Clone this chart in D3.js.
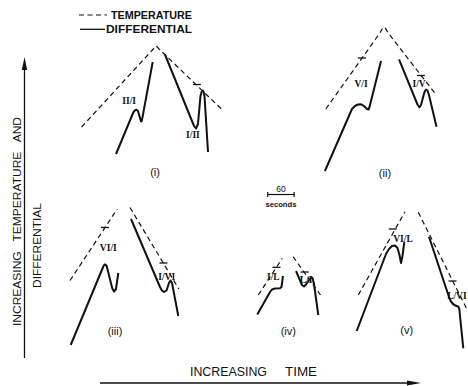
<!DOCTYPE html>
<html>
<head>
<meta charset="utf-8">
<script src="https://d3js.org/d3.v7.min.js"></script>
<style>
  body { margin: 0; background: #fff; }
  text { font-family: "Liberation Sans", Arial, sans-serif; fill: #111; }
  .ink { fill: none; stroke: #111; }
</style>
</head>
<body>
<div class="fig"></div>
<script>
// time in seconds, signal in arbitrary units
// panel (i)
const tempI   = [[140,233],[302,310.5],[306,313],[309,314],[312,313],[316,311],[460,250]];
const diffI_a = [[218.2,206],[258,248],[261.4,249.7],[264.8,250.2],[268.2,249],[275,238.5],[276.8,239],[301.6,298]];
const diffI_b = [[329.5,305.5],[395.5,234],[400,231.5],[404.5,236],[410.2,264],[412.5,268],[414.8,269.5],[417,268.5],[419.3,264],[427.3,208]];
// panel (ii)
const tempII   = [[695,251],[818,327],[823,331],[827,333],[831,331.5],[836,327.5],[946,265]];
const diffII_a = [[693,189],[754.5,251],[761.4,254],[768.2,255.5],[775,255.7],[781.8,254],[788.6,251],[792,250.5],[794.3,253],[820.5,299]];
const diffII_b = [[861.4,300.7],[903.4,255.5],[907.5,252.7],[911.4,255],[919.3,268],[922.7,270.5],[926.1,269.5],[929.5,265],[946.6,233.3]];
// panel (iii)
const tempIII_a = [[113.6,79.5],[221.1,151]];
const tempIII_b = [[250,152.5],[361,71]];
const diffIII_a = [[115.2,15],[190.3,94.5],[193.6,95.7],[197,94],[209.5,72],[213.6,68.5],[218.2,71],[223.4,87]];
const diffIII_b = [[252.3,141],[318.2,73],[322.7,69.5],[327.3,68],[333,69.5],[338.6,77],[342,79.5],[345.5,77],[359.8,44]];
// panel (iv)
const tempIV_a = [[541.6,65],[596.1,101.7]];
const tempIV_b = [[620.5,103.3],[683,65]];
const diffIV_a = [[539.3,45.5],[568.2,68],[572.7,70.5],[579.5,71.5],[590.9,71.7],[594.3,73],[597.7,84]];
const diffIV_b = [[627.3,89],[640.9,75],[645.5,73.5],[650,75.5],[661.4,82.5],[664.8,82],[668.2,76],[677.9,45]];
// panel (v)
const tempV_a = [[768.9,65],[875,148.3]];
const tempV_b = [[905.2,147.7],[1016.6,50]];
const diffV_a = [[765.2,29],[831.8,106],[838.6,111],[845.4,114],[852.3,114.5],[858,112],[862.5,105],[865.9,97],[869.3,104],[873.4,118]];
const diffV_b = [[929.5,123.3],[975,63],[979.5,58.5],[985.2,55.5],[992,54],[996.1,53.5],[998.4,51],[1007.5,11.7]];

const tempCurves = [tempI, tempII, tempIII_a, tempIII_b, tempIV_a, tempIV_b, tempV_a, tempV_b];
const diffCurves = [diffI_a, diffI_b, diffII_a, diffII_b, diffIII_a, diffIII_b, diffIV_a, diffIV_b, diffV_a, diffV_b];

// transition marks on the temperature traces
const ticks = [[402,275.5],[777,302],[911,284.5],[193,132.5],[326,97],[583,92.7],[647,88],[847,131],[983,79]];

const phaseLabels = [
  {t:'II/I', s:248, v:259},  {t:'I/II', s:393, v:225},
  {t:'V/I',  s:775, v:276.5},{t:'I/V',  s:907, v:276.5},
  {t:'VI/I', s:200.7, v:111.7},{t:'I/VI', s:333.4, v:82.7},
  {t:'I/L',  s:575.7, v:83}, {t:'L/I',  s:650, v:80},
  {t:'VI/L', s:870.5, v:121.5},{t:'L/VI', s:993, v:64}
];
const panelNames = [
  {t:'(i)', s:307, v:188}, {t:'(ii)', s:829.5, v:187.3}, {t:'(iii)', s:216, v:29.3},
  {t:'(iv)', s:609.8, v:29}, {t:'(v)', s:878.9, v:30}
];
const scaleBar = [563, 623];   // 60 seconds
const scaleBarLevel = 165.5;

const width = 468, height = 386;

const svg = d3.select('.fig')
  .append('svg')
    .attr('width', width)
    .attr('height', height);

const x = d3.scaleLinear().domain([0, 1000]).range([20, 460]);
const y = d3.scaleLinear().domain([0, 340]).range([360, 20]);

const line = d3.line()
  .x(d => x(d[0]))
  .y(d => y(d[1]));

// temperature (dashed)
svg.selectAll('path.temp')
  .data(tempCurves)
  .enter().append('path')
    .attr('class', 'temp ink')
    .attr('d', line)
    .attr('stroke-width', 1.2)
    .attr('stroke-dasharray', '5,3.5');

// differential (solid)
svg.selectAll('path.diff')
  .data(diffCurves)
  .enter().append('path')
    .attr('class', 'diff ink')
    .attr('d', line)
    .attr('stroke-width', 2)
    .attr('stroke-linejoin', 'round');

svg.selectAll('line.tick')
  .data(ticks)
  .enter().append('line')
    .attr('class', 'tick ink')
    .attr('x1', d => x(d[0]) - 4)
    .attr('x2', d => x(d[0]) + 4)
    .attr('y1', d => y(d[1]))
    .attr('y2', d => y(d[1]))
    .attr('stroke-width', 1.3);

svg.selectAll('text.phase')
  .data(phaseLabels)
  .enter().append('text')
    .attr('class', 'phase')
    .attr('x', d => x(d.s))
    .attr('y', d => y(d.v))
    .attr('text-anchor', 'middle')
    .attr('dominant-baseline', 'central')
    .style('font-family', '"Liberation Serif", "Times New Roman", serif')
    .style('font-weight', 'bold')
    .style('font-size', '9.5px')
    .text(d => d.t);

svg.selectAll('text.panel')
  .data(panelNames)
  .enter().append('text')
    .attr('class', 'panel')
    .attr('x', d => x(d.s))
    .attr('y', d => y(d.v) + 4)
    .attr('text-anchor', 'middle')
    .style('font-size', '11px')
    .text(d => d.t);

// 60 s scale bar
const bar = svg.append('g');
bar.append('line').attr('class', 'ink')
  .attr('x1', x(scaleBar[0])).attr('x2', x(scaleBar[1]))
  .attr('y1', y(scaleBarLevel)).attr('y2', y(scaleBarLevel))
  .attr('stroke-width', 1.2);
scaleBar.forEach(s => {
  bar.append('line').attr('class', 'ink')
    .attr('x1', x(s)).attr('x2', x(s))
    .attr('y1', y(scaleBarLevel) - 2.5).attr('y2', y(scaleBarLevel) + 2.5)
    .attr('stroke-width', 1.2);
});
bar.append('text')
  .attr('x', x(d3.mean(scaleBar))).attr('y', y(scaleBarLevel) - 3)
  .attr('text-anchor', 'middle')
  .style('font-size', '8.5px')
  .text(scaleBar[1] - scaleBar[0]);
bar.append('text')
  .attr('x', x(d3.mean(scaleBar))).attr('y', y(scaleBarLevel) + 12)
  .attr('text-anchor', 'middle')
  .attr('textLength', 31).attr('lengthAdjust', 'spacingAndGlyphs')
  .style('font-size', '7.5px').style('font-weight', 'bold')
  .text('seconds');

// legend
svg.append('line').attr('class', 'ink')
  .attr('x1', 79).attr('x2', 107).attr('y1', 15).attr('y2', 15)
  .attr('stroke-width', 1.2).attr('stroke-dasharray', '5,3.5');
svg.append('line').attr('class', 'ink')
  .attr('x1', 80).attr('x2', 105).attr('y1', 29.3).attr('y2', 29.3)
  .attr('stroke-width', 1.3);
svg.append('text').attr('x', 111).attr('y', 19.3)
  .attr('textLength', 81).attr('lengthAdjust', 'spacingAndGlyphs')
  .style('font-size', '10.5px').style('font-weight', 'bold')
  .text('TEMPERATURE');
svg.append('text').attr('x', 106).attr('y', 33.3)
  .attr('textLength', 86).attr('lengthAdjust', 'spacingAndGlyphs')
  .style('font-size', '10.5px').style('font-weight', 'bold')
  .text('DIFFERENTIAL');

// axes arrows
svg.append('line').attr('class', 'ink')
  .attr('x1', 24.5).attr('x2', 24.5).attr('y1', 66).attr('y2', 358)
  .attr('stroke-width', 1.3);
svg.append('path')
  .attr('d', 'M24.5,57 L21.8,70 L27.2,70 Z')
  .attr('fill', '#111');
svg.append('line').attr('class', 'ink')
  .attr('x1', 100).attr('x2', 410).attr('y1', 383).attr('y2', 383)
  .attr('stroke-width', 1.3);
svg.append('path')
  .attr('d', 'M421,383 L407,380.5 L407,385.5 Z')
  .attr('fill', '#111');

svg.append('text')
  .attr('transform', 'translate(20.5,221.5) rotate(-90)')
  .attr('text-anchor', 'middle')
  .attr('textLength', 209).attr('lengthAdjust', 'spacingAndGlyphs')
  .style('white-space', 'pre')
  .style('font-size', '11.5px')
  .text('INCREASING   TEMPERATURE   AND');
svg.append('text')
  .attr('transform', 'translate(41,245.5) rotate(-90)')
  .attr('text-anchor', 'middle')
  .attr('textLength', 85).attr('lengthAdjust', 'spacingAndGlyphs')
  .style('font-size', '11.5px')
  .text('DIFFERENTIAL');
svg.append('text')
  .attr('x', 190).attr('y', 376)
  .attr('textLength', 77).attr('lengthAdjust', 'spacingAndGlyphs')
  .style('font-size', '12px')
  .text('INCREASING');
svg.append('text')
  .attr('x', 285).attr('y', 376)
  .attr('textLength', 32).attr('lengthAdjust', 'spacingAndGlyphs')
  .style('font-size', '12px')
  .text('TIME');
</script>
</body>
</html>
